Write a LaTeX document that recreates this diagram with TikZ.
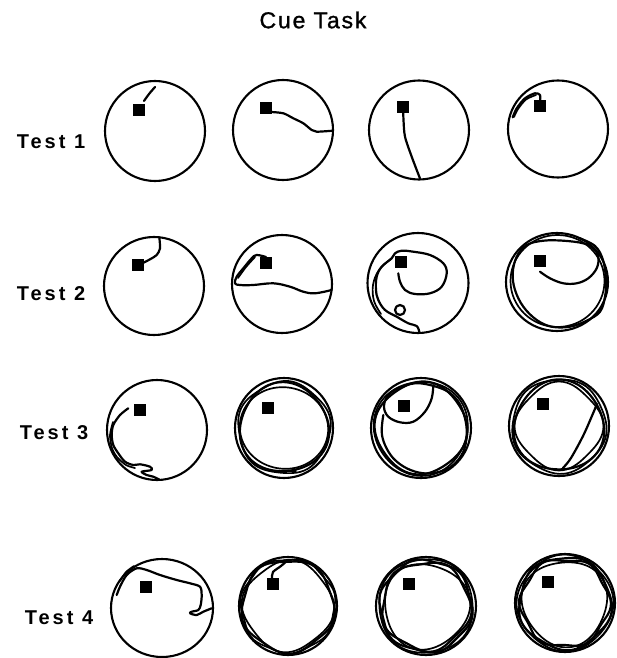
\documentclass[tikz,border=0pt]{standalone}
\usepackage{fontspec}
\setmainfont{Liberation Sans}
\newcommand\poolring[5][]{% radius, wobble, frequency, phase
  \draw[trk,#1] plot[smooth cycle, domain=0:355, samples=72, variable=\t]
    ({(#2+#3*sin(#4*\t+#5))*cos(\t)}, {(#2+#3*sin(#4*\t+#5))*sin(\t)});}
\begin{document}
\begin{tikzpicture}[x=1pt,y=-1pt,
  pool/.style={line width=2.1pt},
  trk/.style={line width=2.2pt, line join=round, line cap=round},
  thin trk/.style={line width=1.7pt, line join=round, line cap=round},
  lbl/.style={font=\fontsize{20}{20}\selectfont\bfseries\addfontfeatures{LetterSpace=15}},
  ttl/.style={font=\fontsize{23}{23}\selectfont\addfontfeatures{LetterSpace=8,FakeBold=1.2}}]
\useasboundingbox (0,0) rectangle (616,658);

\node[ttl] (title) at (313,20) {Cue Task};
\node[lbl] (t1) at (51,142) {Test 1};
\node[lbl] (t2) at (51,294) {Test 2};
\node[lbl] (t3) at (54,433) {Test 3};
\node[lbl] (t4) at (59,618) {Test 4};

% ---------- Row 1 ----------
\begin{scope}[shift={(155,131)}]
  \draw[pool] (0,0) ellipse [x radius=50, y radius=50];
  \fill (-22.5,-26.5) rectangle (-10.5,-14.5);
  \draw[trk] plot[smooth] coordinates {(-11,-30) (-6,-37) (0,-44)};
\end{scope}
\begin{scope}[shift={(283,130)}]
  \draw[pool] (0,0) ellipse [x radius=50, y radius=50];
  \fill (-23.5,-27.5) rectangle (-11.5,-15.5);
  \draw[trk] plot[smooth, tension=0.5] coordinates {(-12,-18) (0.3,-16.7) (10.3,-11.7) (20.3,-6.7) (28.7,0) (33.7,1.7) (49.7,0.7)};
\end{scope}
\begin{scope}[shift={(419,130)}]
  \draw[pool] (0,0) ellipse [x radius=50, y radius=49.5];
  \fill (-22.5,-28.5) rectangle (-10.5,-16.5);
  \draw[trk] plot[smooth] coordinates {(-15.7,-17) (-15.5,-10) (-14,6.7) (-7.3,26.7) (1,48.5)};
\end{scope}
\begin{scope}[shift={(558,129)}]
  \draw[pool] (0,0) ellipse [x radius=50, y radius=48.5];
  \fill (-24,-29) rectangle (-12,-17);
  \draw[trk] plot[smooth] coordinates {(-18,-28.3) (-18,-34) (-23,-35.7) (-33,-30.7) (-41.3,-20.7) (-45.3,-11.7)};
  \draw[thin trk] plot[smooth] coordinates {(-22,-34) (-32,-29.5) (-40,-20) (-44,-12)};
\end{scope}

% ---------- Row 2 ----------
\begin{scope}[shift={(154,286)}]
  \draw[pool] (0,0) ellipse [x radius=50, y radius=49];
  \fill (-22.5,-27.5) rectangle (-10.5,-15.5);
  \draw[trk] plot[smooth] coordinates {(-11,-23) (-4,-26.7) (2.7,-31) (6,-37.7) (5.3,-48.5)};
\end{scope}
\begin{scope}[shift={(282,284)}]
  \draw[pool] (0,0) ellipse [x radius=50, y radius=49];
  \fill (-22.5,-27.5) rectangle (-10.5,-15.5);
  \draw[trk] plot[smooth, tension=0.6] coordinates {(-16,-27) (-25.3,-29) (-30.3,-25.7) (-38.7,-15.7) (-45.3,-7.3) (-47,-0.7) (-42,1) (-28.7,1) (-8.7,-0.7) (8,2.7) (21.3,7.7) (33,9.3) (49.7,6)};
  \draw[thin trk] plot[smooth] coordinates {(-27,-27) (-36,-17) (-44,-6)};
\end{scope}
\begin{scope}[shift={(418,283)}]
  \draw[pool] (0,0) ellipse [x radius=50.5, y radius=50];
  \fill (-23.5,-27.5) rectangle (-11.5,-15.5);
  \draw[trk] plot[smooth, tension=0.6] coordinates {(-19.7,-9.7) (-18,-1.3) (-13,7) (-3,11) (12,10.3) (23.7,3.7) (28.7,-9.7) (25.3,-19.7) (12,-28) (-4.7,-31.3) (-16.3,-32.3) (-23,-29.7) (-26.3,-24.7) (-36.3,-16.3) (-41.3,-6.3) (-42,7) (-39.7,17) (-33,27) (-21.3,33.7) (-9.7,40.3) (-1.3,43) (1.3,49)};
  \draw[thin trk] plot[smooth, tension=0.6] coordinates {(-26,-25) (-39,-13) (-45,2) (-44,18) (-37,31)};
  \draw[trk] (-18,27) circle [radius=5];
\end{scope}
\begin{scope}[shift={(557,282)}]
  \draw[pool] (0,0) ellipse [x radius=51, y radius=49];
  \fill (-23,-27) rectangle (-11,-15);
  \draw[trk] plot[smooth, tension=0.6] coordinates {(-17,-10.3) (-7,-3.7) (6.3,1.3) (19.7,1.3) (31.3,-3.7) (39.7,-13.7) (41.3,-25.3) (36.3,-33.7) (26.3,-38.7) (6.3,-41.3) (-13.7,-41.3) (-30.3,-37) (-40.3,-25.3) (-44.3,-8.7) (-42,8) (-33.7,24.7) (-20.3,38) (-5.3,44.7) (13,44.7) (29.7,38.7) (43,29.7) (48,14.7) (49,-2) (46,-22) (38,-36) (22,-44)};
  \draw[thin trk] (0.5,-1) ellipse [x radius=47, y radius=46];
\end{scope}

% ---------- Row 3 ----------
\begin{scope}[shift={(157,430)}]
  \draw[pool] (0,0) ellipse [x radius=50, y radius=50];
  \fill (-23,-26.5) rectangle (-11,-14.5);
  \draw[trk] plot[smooth, tension=0.5] coordinates {(-28.7,-21.7) (-37,-15) (-43.7,-5) (-45.3,5) (-43.7,15) (-38.7,23.3) (-32,31.7) (-23.7,35) (-17,34.3) (-7,36.7) (-5.3,40) (-15.3,41.7) (-10.3,45) (-3.7,46.7) (3,50)};
  \draw[thin trk] plot[smooth, tension=0.5] coordinates {(-44,-8) (-47,5) (-45,18) (-40,27) (-31,35) (-22,38)};
\end{scope}
\begin{scope}[shift={(284,428)}]
  \draw[pool] (0,0) ellipse [x radius=49, y radius=50];
  \fill (-22.5,-26.5) rectangle (-10.5,-14.5);
  \poolring{44.5}{1.5}{3}{20}
  \poolring[thin trk]{42.5}{1.8}{2}{70}
  \poolring[thin trk]{46}{1.2}{5}{150}
  \draw[thin trk] (-12,43) -- (12,43);
\end{scope}
\begin{scope}[shift={(421,428)}]
  \draw[pool] (0,0) ellipse [x radius=50, y radius=50];
  \fill (-23.5,-28.5) rectangle (-11.5,-16.5);
  \draw[trk] plot[smooth, tension=0.6] coordinates {(12.3,-43) (10.7,-29.7) (4,-16.3) (-7.7,-6.3) (-21,-5.7) (-32.7,-11.3) (-37,-21.3) (-32.7,-33) (-19.3,-41.3) (-1,-44.7) (24,-38) (37.3,-26.3) (44,-9.7) (45.7,7) (42.3,23.7) (32.3,37) (19,43.7) (2.3,45.3) (-14.3,40.3) (-27.7,30.3) (-36,17) (-39.3,3.7) (-37.7,-13)};
  \poolring{45.5}{1.2}{4}{50}
  \poolring[thin trk]{47}{1}{3}{200}
\end{scope}
\begin{scope}[shift={(559,426)}]
  \draw[pool] (0,0) ellipse [x radius=50, y radius=50];
  \fill (-22.5,-28.5) rectangle (-10.5,-16.5);
  \poolring{45}{1.6}{3}{0}
  \poolring[thin trk]{42.5}{2}{4}{90}
  \poolring[thin trk]{47}{1}{5}{30}
  \draw[trk] plot[smooth] coordinates {(38,-22) (25,8) (12,32) (4,42)};
\end{scope}

% ---------- Row 4 ----------
\begin{scope}[shift={(162,608)}]
  \draw[pool] (0,0) ellipse [x radius=51, y radius=49];
  \fill (-22.5,-27.5) rectangle (-10.5,-15.5);
  \draw[trk] plot[smooth, tension=0.5] coordinates {(-45.3,-13) (-42,-21.3) (-35.3,-33) (-25.3,-39.7) (-15.3,-38) (-2,-33) (14.7,-28) (28,-24.7) (38,-21.3) (39.7,-13) (38.7,-3) (36.3,2) (29.7,3.7) (28,5.3) (34.7,7) (41.3,3.7) (49.7,0.3)};
  \draw[thin trk] plot[smooth] coordinates {(-42,-27) (-36,-36) (-28,-42)};
\end{scope}
\begin{scope}[shift={(288,606)}]
  \draw[pool] (0,0) ellipse [x radius=49, y radius=49];
  \fill (-21.5,-28) rectangle (-9.5,-16);
  \poolring{46}{1.8}{5}{10}
  \poolring[thin trk]{44.5}{2}{4}{60}
  \poolring[thin trk]{47}{1.2}{7}{200}
  \draw[trk] plot[smooth] coordinates {(-16,-28) (-15,-34) (-7,-40) (0,-46)};
\end{scope}
\begin{scope}[shift={(426,606)}]
  \draw[pool] (0,0) ellipse [x radius=50, y radius=49];
  \fill (-23.5,-28.5) rectangle (-11.5,-16.5);
  \poolring{46}{1.5}{6}{0}
  \poolring{44}{2}{5}{40}
  \poolring[thin trk]{42.5}{2}{3}{120}
  \poolring[thin trk]{47.5}{1}{4}{300}
\end{scope}
\begin{scope}[shift={(565,603)}]
  \draw[pool] (0,0) ellipse [x radius=50, y radius=49];
  \fill (-23.5,-27.5) rectangle (-11.5,-15.5);
  \poolring{46}{1.5}{5}{30}
  \poolring{44}{2}{6}{80}
  \poolring[thin trk]{42.5}{2}{3}{200}
  \poolring[thin trk]{47.5}{1}{4}{100}
\end{scope}
\end{tikzpicture}
\end{document}
